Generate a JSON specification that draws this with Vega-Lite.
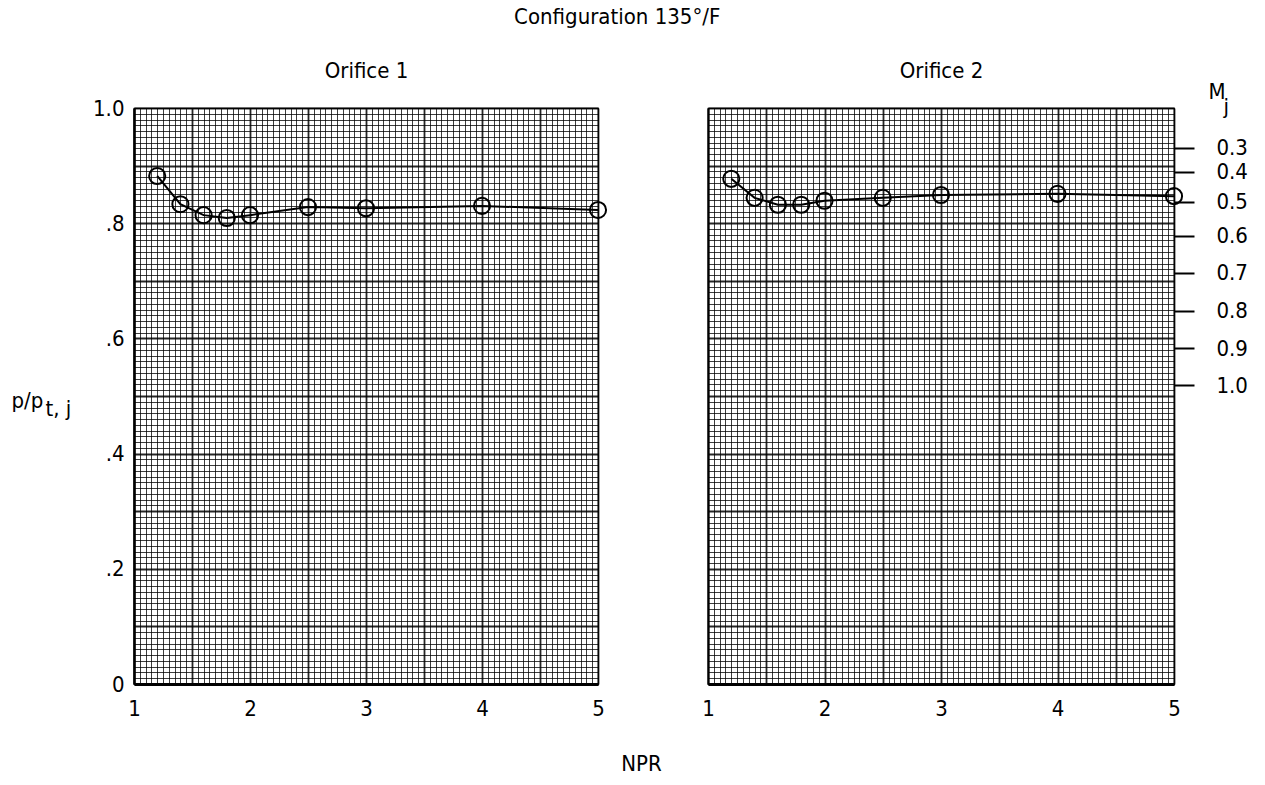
{
  "$schema": "https://vega.github.io/schema/vega-lite/v6.json",
  "background": "white",
  "padding": {"left": 10, "top": 6, "right": 5, "bottom": 5},
  "bounds": "flush",
  "spacing": 110,
  "title": {"text": "Configuration 135°/F", "anchor": "middle", "dx": -12, "baseline": "alphabetic", "offset": 12, "fontSize": 22, "fontWeight": "normal", "font": "DejaVu Sans Condensed, Roboto, sans-serif", "color": "#000"},
  "datasets": {
    "o1": [
      {"npr": 1.2, "p": 0.882},
      {"npr": 1.4, "p": 0.833},
      {"npr": 1.6, "p": 0.814},
      {"npr": 1.8, "p": 0.809},
      {"npr": 2.0, "p": 0.814},
      {"npr": 2.5, "p": 0.828},
      {"npr": 3.0, "p": 0.826},
      {"npr": 4.0, "p": 0.830},
      {"npr": 5.0, "p": 0.823}
    ],
    "o2": [
      {"npr": 1.2, "p": 0.877},
      {"npr": 1.4, "p": 0.844},
      {"npr": 1.6, "p": 0.832},
      {"npr": 1.8, "p": 0.832},
      {"npr": 2.0, "p": 0.839},
      {"npr": 2.5, "p": 0.844},
      {"npr": 3.0, "p": 0.849},
      {"npr": 4.0, "p": 0.851},
      {"npr": 5.0, "p": 0.847}
    ]
  },
  "hconcat": [
    {
      "width": 464,
      "height": 576,
      "data": {"name": "o1"},
      "layer": [
        {
          "mark": {"type": "line", "color": "#000", "strokeWidth": 2},
          "encoding": {
            "x": {"field": "npr", "type": "quantitative", "scale": {"domain": [1, 5], "nice": false, "zero": false},
              "axis": {"orient": "bottom", "tickCount": 80, "ticks": false, "tickSize": 0, "labelPadding": 14, "labelFlush": false, "labelOverlap": false,
                "labelExpr": "round(datum.value*100) % 100 == 0 ? format(datum.value, 'd') : ''",
                "grid": true, "gridColor": "#000", "gridOpacity": 0.85,
                "gridWidth": {"condition": {"test": "round(datum.value*100) % 50 == 0", "value": 1.8}, "value": 0.9},
                "domain": true, "domainColor": "#000", "domainWidth": 3,
                "title": "NPR", "titleX": 507, "titleY": 86, "titleBaseline": "alphabetic"}},
            "y": {"field": "p", "type": "quantitative", "scale": {"domain": [0, 1], "nice": false},
              "axis": {"orient": "left", "tickCount": 100, "ticks": false, "tickSize": 0, "labelPadding": 10, "labelFlush": false, "labelOverlap": false,
                "labelBaseline": "middle",
                "labelExpr": "round(datum.value*100) % 20 == 0 ? (datum.value == 0 ? '0' : (datum.value > 0.99 ? '1.0' : '.' + round(datum.value*10))) : ''",
                "grid": true, "gridColor": "#000", "gridOpacity": 0.85,
                "gridWidth": {"condition": {"test": "round(datum.value*100) % 10 == 0", "value": 1.8}, "value": 0.9},
                "domain": true, "domainColor": "#000", "domainWidth": 2.5,
                "title": "p/p", "titleAngle": 0, "titleAlign": "left", "titleBaseline": "alphabetic",
                "titleX": -123, "titleY": 299}}
          }
        },
        {
          "mark": {"type": "point", "shape": "circle", "filled": false, "stroke": "#000", "strokeWidth": 2, "size": 260, "opacity": 1},
          "encoding": {
            "x": {"field": "npr", "type": "quantitative",
              "axis": {"orient": "top", "labels": false, "ticks": false, "domain": false, "grid": false,
                "title": "Orifice 1", "titleY": -31, "titleBaseline": "alphabetic"}},
            "y": {"field": "p", "type": "quantitative",
              "axis": {"orient": "left", "labels": false, "ticks": false, "domain": false, "grid": false,
                "title": "t, j", "titleAngle": 0, "titleAlign": "left", "titleBaseline": "alphabetic",
                "titleX": -89, "titleY": 307}}
          }
        }
      ],
      "resolve": {"axis": {"x": "independent", "y": "independent"}}
    },
    {
      "width": 466,
      "height": 576,
      "data": {"name": "o2"},
      "layer": [
        {
          "mark": {"type": "line", "color": "#000", "strokeWidth": 2},
          "encoding": {
            "x": {"field": "npr", "type": "quantitative", "scale": {"domain": [1, 5], "nice": false, "zero": false},
              "axis": {"orient": "bottom", "tickCount": 80, "ticks": false, "tickSize": 0, "labelPadding": 14, "labelFlush": false, "labelOverlap": false,
                "labelExpr": "round(datum.value*100) % 100 == 0 ? format(datum.value, 'd') : ''",
                "grid": true, "gridColor": "#000", "gridOpacity": 0.85,
                "gridWidth": {"condition": {"test": "round(datum.value*100) % 50 == 0", "value": 1.8}, "value": 0.9},
                "domain": true, "domainColor": "#000", "domainWidth": 3,
                "title": null}},
            "y": {"field": "p", "type": "quantitative", "scale": {"domain": [0, 1], "nice": false},
              "axis": {"orient": "left", "tickCount": 100, "ticks": false, "tickSize": 0, "labels": false,
                "grid": true, "gridColor": "#000", "gridOpacity": 0.85,
                "gridWidth": {"condition": {"test": "round(datum.value*100) % 10 == 0", "value": 1.8}, "value": 0.9},
                "domain": true, "domainColor": "#000", "domainWidth": 2,
                "title": "j", "titleAngle": 0, "titleAlign": "left", "titleBaseline": "alphabetic",
                "titleX": 515, "titleY": 5}}
          }
        },
        {
          "mark": {"type": "point", "shape": "circle", "filled": false, "stroke": "#000", "strokeWidth": 2, "size": 260, "opacity": 1},
          "encoding": {
            "x": {"field": "npr", "type": "quantitative",
              "axis": {"orient": "top", "labels": false, "ticks": false, "domain": false, "grid": false,
                "title": "Orifice 2", "titleY": -31, "titleBaseline": "alphabetic"}},
            "y": {"field": "p", "type": "quantitative",
              "axis": {"orient": "right", "values": [0.931, 0.889, 0.837, 0.778, 0.714, 0.648, 0.583, 0.519],
                "labelExpr": "datum.value > 0.91 ? '0.3' : datum.value > 0.86 ? '0.4' : datum.value > 0.8 ? '0.5' : datum.value > 0.74 ? '0.6' : datum.value > 0.68 ? '0.7' : datum.value > 0.61 ? '0.8' : datum.value > 0.55 ? '0.9' : '1.0'",
                "ticks": true, "tickSize": 20, "tickWidth": 2, "tickColor": "#000", "labelPadding": 22, "labelOverlap": false, "labelFlush": false,
                "labelBaseline": "middle", "labelAlign": "left",
                "domain": false, "grid": false,
                "title": "M", "titleAngle": 0, "titleAlign": "left", "titleBaseline": "alphabetic",
                "titleX": 34, "titleY": -10}}
          }
        }
      ],
      "resolve": {"axis": {"x": "independent", "y": "independent"}}
    }
  ],
  "config": {
    "font": "DejaVu Sans Condensed, Roboto, sans-serif",
    "view": {"stroke": "#000", "strokeWidth": 1.2},
    "axis": {"labelFont": "DejaVu Sans Condensed, Roboto, sans-serif", "labelFontSize": 22, "labelColor": "#000",
      "titleFont": "DejaVu Sans Condensed, Roboto, sans-serif", "titleFontSize": 22, "titleFontWeight": "normal", "titleColor": "#000"}
  }
}
